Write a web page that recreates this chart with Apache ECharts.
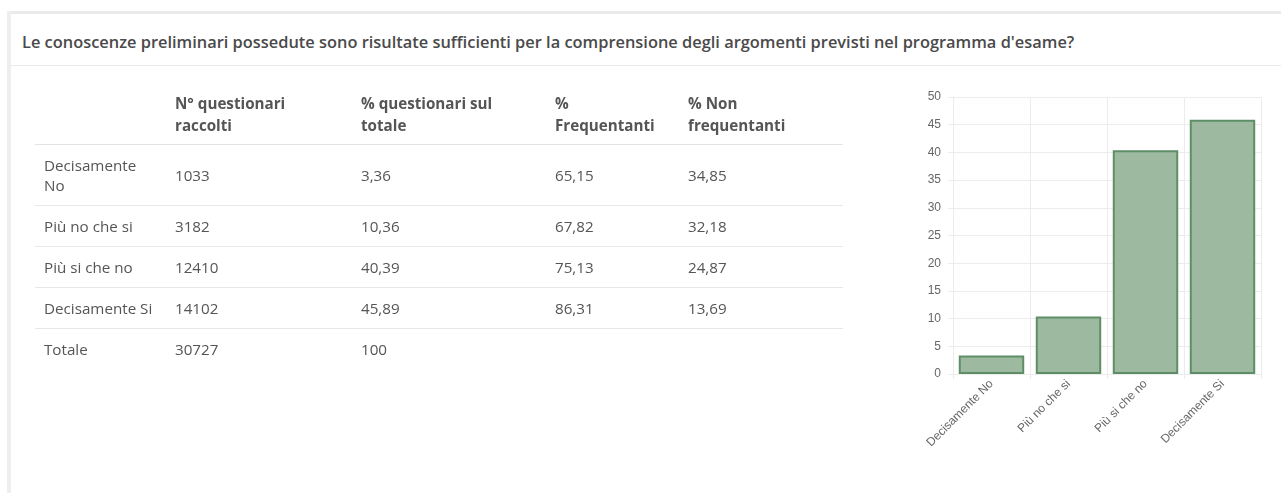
<!DOCTYPE html>
<html>
<head>
<meta charset="utf-8">
<script src="https://cdn.jsdelivr.net/npm/echarts@6/dist/echarts.min.js"></script>
<style>
  html, body { margin: 0; padding: 0; background: #fff; width: 1281px; height: 493px; overflow: hidden; }
  #panelTop { position: absolute; left: 7px; top: 11px; width: 1274px; height: 3px; background: #eaeaea; }
  #panelLeft { position: absolute; left: 7px; top: 11px; width: 4px; height: 482px; background: #eeeeee; }
  #sep { position: absolute; left: 11px; top: 65px; width: 1270px; height: 1px; background: #ebebeb; }
  #title { position: absolute; left: 22px; top: 31px; font-family: "Open Sans", sans-serif; font-weight: 600; font-size: 16.4px; color: #4a4a4a; white-space: nowrap; line-height: 22px; }
  #chart { position: absolute; left: 0; top: 0; width: 1281px; height: 493px; }
  #tbl { position: absolute; left: 35px; top: 92px; width: 808px; border-collapse: collapse; table-layout: fixed; font-family: "Open Sans", sans-serif; font-size: 15.2px; color: #555; }
  #tbl th { font-weight: 700; text-align: left; vertical-align: bottom; line-height: 22px; padding: 0 6px 8px 9px; border-bottom: 1px solid #e2e2e2; }
  #tbl td { text-align: left; vertical-align: middle; line-height: 20px; padding: 10px 6px 10px 9px; border-bottom: 1px solid #e8e8e8; }
  #tbl tr:last-child td { border-bottom: none; }
</style>
</head>
<body>
<div id="panelTop"></div>
<div id="panelLeft"></div>
<div id="sep"></div>
<div id="title">Le conoscenze preliminari possedute sono risultate sufficienti per la comprensione degli argomenti previsti nel programma d'esame?</div>
<div id="chart"></div>
<table id="tbl"></table>
<script>
const categories = ["Decisamente No", "Più no che si", "Più si che no", "Decisamente Si"];
const questionari = ["1033", "3182", "12410", "14102"];
const percTotale = ["3,36", "10,36", "40,39", "45,89"];
const percFrequentanti = ["65,15", "67,82", "75,13", "86,31"];
const percNonFrequentanti = ["34,85", "32,18", "24,87", "13,69"];
const totaleLabel = "Totale";
const totaleQuestionari = "30727";
const totalePerc = "100";
const headers = ["", "N° questionari<br>raccolti", "% questionari sul<br>totale", "%<br>Frequentanti", "% Non<br>frequentanti"];
const barValues = [3.36, 10.36, 40.39, 45.89];
const yTicks = { min: 0, max: 50, interval: 5 };

// Build table
const colWidths = [131, 186, 194, 133, 164];
const tbl = document.getElementById('tbl');
let html = '<colgroup>' + colWidths.map(w => '<col style="width:' + w + 'px">').join('') + '</colgroup>';
html += '<tr>' + headers.map(h => '<th>' + h + '</th>').join('') + '</tr>';
categories.forEach((c, i) => {
  const label = (c === "Decisamente No") ? "Decisamente<br>No" : c;
  html += '<tr><td>' + label + '</td><td>' + questionari[i] + '</td><td>' + percTotale[i] + '</td><td>' + percFrequentanti[i] + '</td><td>' + percNonFrequentanti[i] + '</td></tr>';
});
html += '<tr><td>' + totaleLabel + '</td><td>' + totaleQuestionari + '</td><td>' + totalePerc + '</td><td></td><td></td></tr>';
tbl.innerHTML = html;

// Chart
const chart = echarts.init(document.getElementById('chart'), null, { renderer: 'canvas' });
const gridColor = '#ececec';
chart.setOption({
  animation: false,
  backgroundColor: 'transparent',
  grid: { left: 953, right: 20, top: 97, bottom: 119, containLabel: false },
  xAxis: {
    type: 'category',
    data: categories,
    boundaryGap: true,
    axisLine: { show: true, lineStyle: { color: gridColor, width: 1 } },
    axisTick: { show: true, length: 5, alignWithLabel: false, lineStyle: { color: gridColor } },
    splitLine: { show: true, lineStyle: { color: gridColor, width: 1 } },
    axisLabel: { rotate: 45, margin: 8, color: '#666', fontSize: 12, fontFamily: 'Liberation Sans, Arial, sans-serif', interval: 0 }
  },
  yAxis: {
    type: 'value',
    min: yTicks.min, max: yTicks.max, interval: yTicks.interval,
    axisLine: { show: true, lineStyle: { color: gridColor, width: 1 } },
    axisTick: { show: true, length: 5, lineStyle: { color: gridColor } },
    splitLine: { show: true, lineStyle: { color: gridColor, width: 1 } },
    axisLabel: { margin: 12, color: '#666', fontSize: 12, fontFamily: 'Liberation Sans, Arial, sans-serif' }
  },
  series: [{
    type: 'bar',
    data: barValues,
    barCategoryGap: '15%',
    itemStyle: { color: '#9dbaa0', borderColor: '#5e8e66', borderWidth: 2 }
  }]
});
</script>
</body>
</html>
